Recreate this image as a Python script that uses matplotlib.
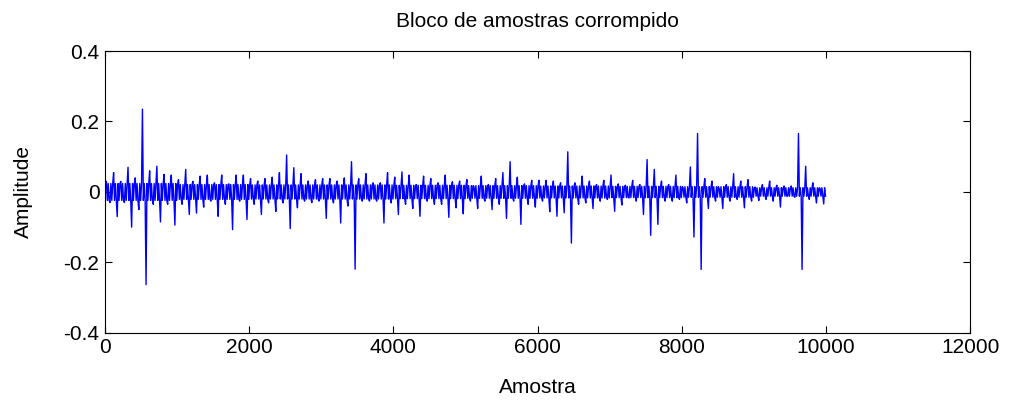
import numpy as np
import matplotlib.pyplot as plt

# Envelope of the corrupted block, one pair of values per 100-sample bin
bin_width = 100
peak_hi = [0.03, 0.055, 0.03, 0.07, 0.04, 0.235, 0.06, 0.073, 0.05, 0.048,
           0.035, 0.064, 0.03, 0.045, 0.048, 0.026, 0.048, 0.023, 0.048, 0.048,
           0.038, 0.031, 0.038, 0.042, 0.055, 0.105, 0.069, 0.052, 0.031, 0.035,
           0.038, 0.038, 0.031, 0.04, 0.086, 0.038, 0.052, 0.026, 0.026, 0.055,
           0.042, 0.057, 0.048, 0.021, 0.045, 0.038, 0.026, 0.048, 0.029, 0.031,
           0.035, 0.014, 0.045, 0.021, 0.038, 0.055, 0.086, 0.042, 0.023, 0.033,
           0.033, 0.033, 0.031, 0.026, 0.114, 0.026, 0.045, 0.031, 0.021, 0.033,
           0.048, 0.023, 0.019, 0.033, 0.021, 0.092, 0.064, 0.031, 0.021, 0.048,
           0.012, 0.071, 0.166, 0.038, 0.031, 0.01, 0.021, 0.052, 0.031, 0.035,
           0.014, 0.021, 0.031, 0.019, 0.017, 0.017, 0.166, 0.073, 0.026, 0.01]
peak_lo = [-0.03, -0.07, -0.03, -0.1, -0.05, -0.263, -0.035, -0.085, -0.035, -0.094,
           -0.035, -0.064, -0.06, -0.043, -0.026, -0.069, -0.035, -0.107, -0.026, -0.078,
           -0.035, -0.064, -0.031, -0.055, -0.031, -0.104, -0.045, -0.026, -0.03, -0.026,
           -0.075, -0.031, -0.088, -0.04, -0.219, -0.026, -0.026, -0.026, -0.088, -0.031,
           -0.064, -0.035, -0.047, -0.069, -0.026, -0.035, -0.035, -0.072, -0.045, -0.062,
           -0.026, -0.047, -0.026, -0.05, -0.035, -0.075, -0.026, -0.092, -0.035, -0.043,
           -0.026, -0.056, -0.069, -0.059, -0.145, -0.035, -0.031, -0.047, -0.026, -0.021,
           -0.055, -0.037, -0.017, -0.026, -0.064, -0.123, -0.092, -0.026, -0.026, -0.021,
           -0.031, -0.128, -0.22, -0.047, -0.026, -0.047, -0.026, -0.021, -0.045, -0.026,
           -0.024, -0.021, -0.026, -0.043, -0.012, -0.015, -0.22, -0.021, -0.031, -0.034]
# half-width of the dense noise band, per 1000 samples
core_width = [0.024, 0.021, 0.02, 0.02, 0.019, 0.018, 0.017, 0.016, 0.015, 0.012]

x_ticks = [0, 2000, 4000, 6000, 8000, 10000, 12000]
y_ticks = [-0.4, -0.2, 0, 0.2, 0.4]
y_tick_labels = ['-0.4', '-0.2', '0', '0.2', '0.4']

# each bin: one excursion to each peak, the rest bouncing inside the band
n_bins = len(peak_hi)
samples = []
amplitude = []
for i in range(n_bins):
    c = core_width[i * bin_width // 1000]
    vals = [c, peak_hi[i], -c, c, -c, peak_lo[i], c, -c]
    start = i * bin_width
    step = bin_width / len(vals)
    for k, v in enumerate(vals):
        samples.append(start + step * (k + 0.5))
        amplitude.append(v)
samples = np.array(samples)
amplitude = np.array(amplitude)

plt.rcParams['font.family'] = ['Liberation Sans', 'DejaVu Sans']

fig = plt.figure(figsize=(10.13, 4.05), dpi=100)
ax = fig.add_axes([0.1037, 0.178, 0.854, 0.696])
ax.plot(samples, amplitude, color='#0000ff', linewidth=1.0)

ax.set_xlim(0, 12000)
ax.set_ylim(-0.4, 0.4)
ax.set_xticks(x_ticks)
ax.set_xticklabels([str(t) for t in x_ticks])
ax.set_yticks(y_ticks)
ax.set_yticklabels(y_tick_labels)
ax.tick_params(direction='in', top=True, right=True, length=5, width=0.8,
               labelsize=15, pad=4)
for side in ax.spines.values():
    side.set_linewidth(0.8)

ax.set_title('Bloco de amostras corrompido', fontsize=15, pad=17)
ax.set_xlabel('Amostra', fontsize=15, labelpad=15)
ax.set_ylabel('Amplitude', fontsize=15, labelpad=22)

fig.savefig('out.png', dpi=100)
